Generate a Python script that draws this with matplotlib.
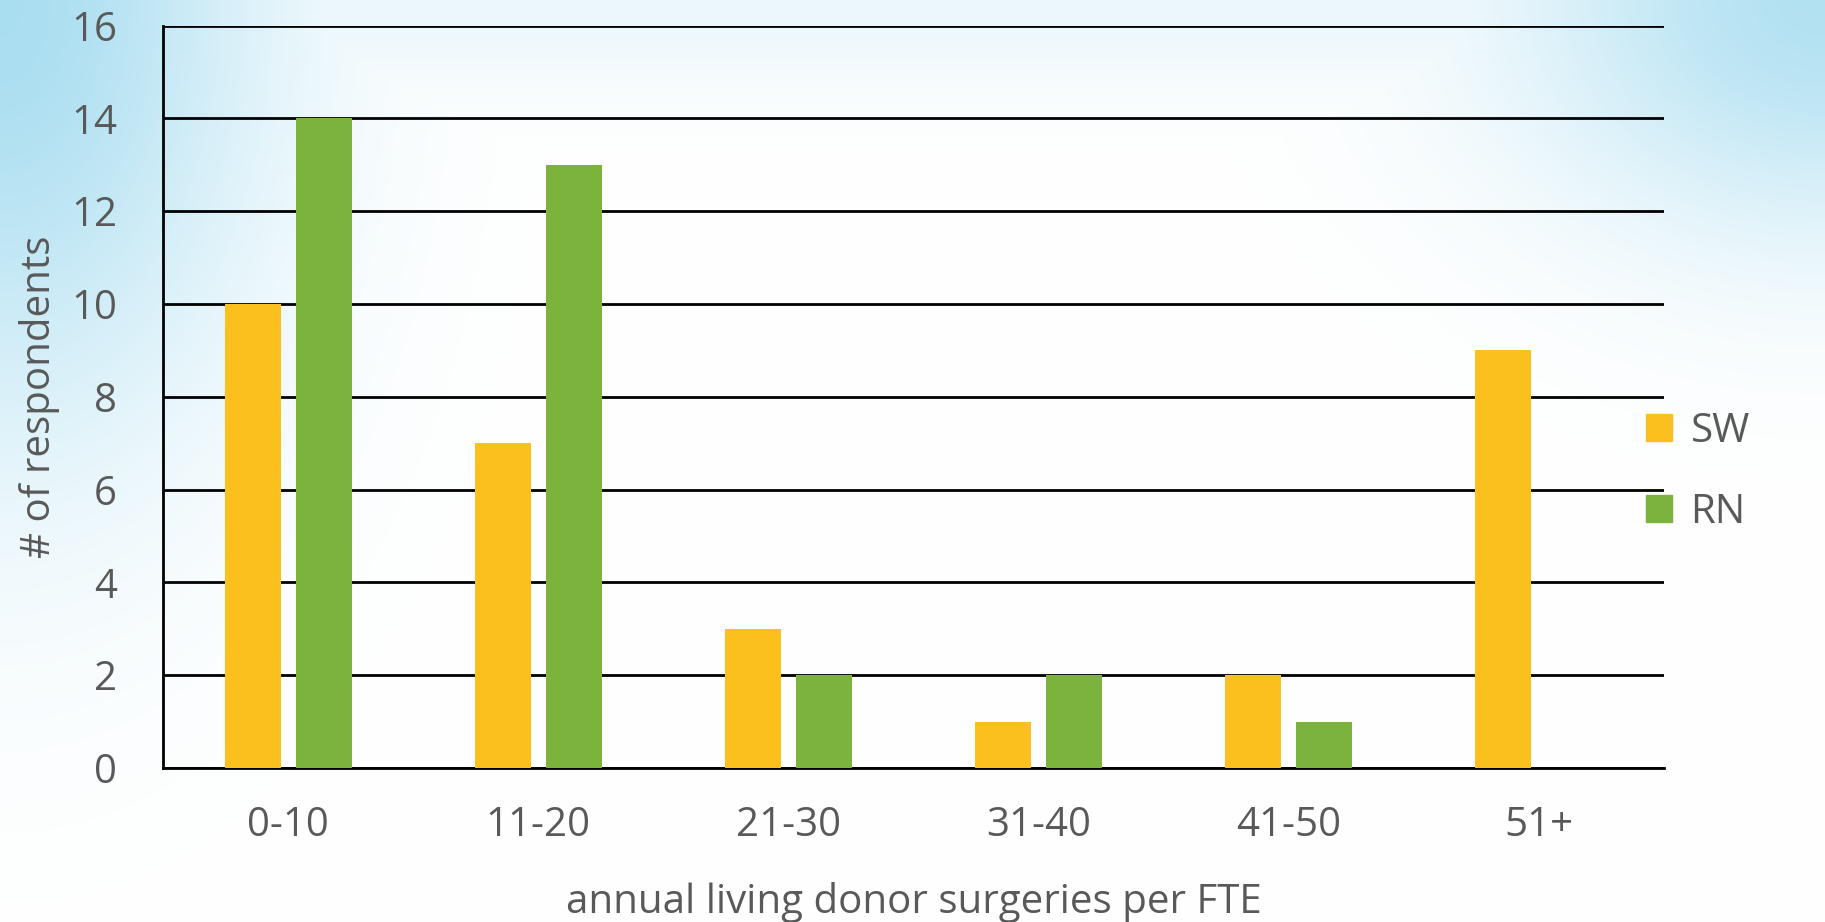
import numpy as np
import matplotlib
matplotlib.use("Agg")
from matplotlib import pyplot as plt
from matplotlib.patches import Patch

# Data
categories = ["0-10", "11-20", "21-30", "31-40", "41-50", "51+"]
sw_counts = [10, 7, 3, 1, 2, 9]
rn_counts = [14, 13, 2, 2, 1, 0]

SW_COLOR = "#FBC01E"
RN_COLOR = "#7BB33D"
TEXT_COLOR = "#595959"
FS = 29

plt.rcParams["font.family"] = ["Open Sans", "DejaVu Sans"]

W, H = 1825, 922
fig = plt.figure(figsize=(W / 100, H / 100), dpi=100)

# soft sky-blue background wash in the top corners
yy, xx = np.mgrid[0:H, 0:W].astype(float)
left_wash = 0.95 * np.exp(-((xx / 260.0) ** 2 + (yy / 430.0) ** 2))
right_wash = 0.85 * np.exp(-(((W - xx) / 300.0) ** 2 + (yy / 230.0) ** 2))
top_band = 0.22 * np.exp(-(yy / 90.0) ** 2)
alpha = np.clip(np.maximum.reduce([left_wash, right_wash, top_band]), 0, 1)
blue = np.array([165, 220, 240]) / 255.0
bg = np.ones((H, W, 3)) * (1 - alpha[..., None]) + blue * alpha[..., None]
bg_ax = fig.add_axes([0, 0, 1, 1], zorder=0)
bg_ax.imshow(bg, aspect="auto", interpolation="bilinear")
bg_ax.axis("off")

ax = fig.add_axes([163 / W, 1 - 768 / H, (1664 - 163) / W, (768 - 25.6) / H], zorder=1)
ax.patch.set_alpha(0)

x = np.arange(len(categories))
bar_w = 0.224
offset = 0.142
ax.bar(x - offset, sw_counts, bar_w, color=SW_COLOR, label="SW", zorder=3)
ax.bar(x + offset, rn_counts, bar_w, color=RN_COLOR, label="RN", zorder=3)

ax.set_xlim(-0.5, len(categories) - 0.5)
ax.set_ylim(0, 16)
ax.set_yticks(range(0, 17, 2))
ax.set_xticks(x)
ax.set_xticklabels(categories)
ax.yaxis.grid(True, color="black", linewidth=2.0, zorder=1)
ax.set_axisbelow(True)

for side in ["top", "right"]:
    ax.spines[side].set_visible(False)
ax.spines["left"].set_linewidth(2.0)
ax.spines["bottom"].set_linewidth(2.0)
ax.tick_params(axis="both", length=0, labelsize=FS, colors=TEXT_COLOR)
ax.tick_params(axis="y", pad=33)
ax.tick_params(axis="x", pad=27)

ax.set_ylabel("# of respondents", fontsize=FS, color=TEXT_COLOR, labelpad=8)
ax.set_xlabel("annual living donor surgeries per FTE", fontsize=FS, color=TEXT_COLOR, labelpad=26)

handles = [Patch(color=SW_COLOR), Patch(color=RN_COLOR)]
fig.legend(handles, ["SW", "RN"], loc="center left", bbox_to_anchor=(1610 / W, 1 - 472 / H),
           frameon=False, fontsize=FS, labelcolor=TEXT_COLOR,
           handlelength=0.65, handleheight=0.65, handletextpad=0.45, labelspacing=1.0)

fig.savefig("out.png", dpi=100)
